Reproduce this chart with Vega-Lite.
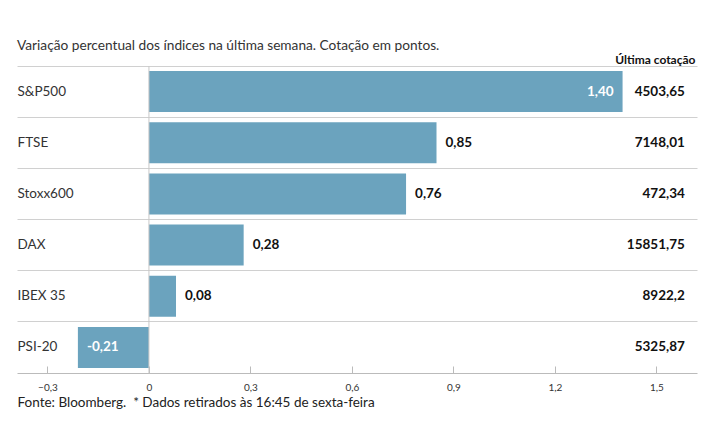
{
  "$schema": "https://vega.github.io/schema/vega-lite/v6.json",
  "width": 680,
  "height": 307,
  "autosize": {"type": "none"},
  "padding": {"left": 17, "top": 66, "right": 18, "bottom": 72},
  "background": "white",
  "title": {
    "text": "Variação percentual dos índices na última semana. Cotação em pontos.",
    "anchor": "start",
    "frame": "group",
    "offset": 0,
    "fontSize": 13.7,
    "fontWeight": "normal",
    "font": "Lato",
    "color": "#333333"
  },
  "config": {
    "view": {"stroke": null},
    "font": "Lato"
  },
  "data": {
    "values": [
      {"indice": "S&P500", "var": 1.40, "varLabel": "1,40", "cot": "4503,65"},
      {"indice": "FTSE", "var": 0.85, "varLabel": "0,85", "cot": "7148,01"},
      {"indice": "Stoxx600", "var": 0.76, "varLabel": "0,76", "cot": "472,34"},
      {"indice": "DAX", "var": 0.28, "varLabel": "0,28", "cot": "15851,75"},
      {"indice": "IBEX 35", "var": 0.08, "varLabel": "0,08", "cot": "8922,2"},
      {"indice": "PSI-20", "var": -0.21, "varLabel": "-0,21", "cot": "5325,87"}
    ]
  },
  "resolve": {"axis": {"y": "independent"}},
  "layer": [
    {
      "mark": {"type": "bar", "color": "#6BA3BE"},
      "encoding": {
        "y": {
          "field": "indice", "type": "nominal", "sort": null,
          "scale": {"paddingInner": 0.2, "paddingOuter": 0.1},
          "axis": {
            "orient": "left", "title": null, "ticks": false, "domain": false,
            "labelAlign": "left", "labelPadding": 0, "labelFontSize": 13.5,
            "labelColor": "#333333", "labelFont": "Lato",
            "grid": true, "gridColor": "#d0d0d0", "gridWidth": 1,
            "bandPosition": -0.125
          }
        },
        "x": {
          "field": "var", "type": "quantitative",
          "scale": {"domain": [-0.39, 1.62], "nice": false, "zero": false},
          "axis": {
            "values": [-0.3, 0, 0.3, 0.6, 0.9, 1.2, 1.5],
            "labelExpr": "datum.value == 0 ? '0' : replace(format(datum.value, '.1f'), '.', ',')",
            "grid": false,
            "domainColor": "#bbbbbb",
            "tickColor": "#bbbbbb",
            "tickSize": -7,
            "labelPadding": 16,
            "labelFontSize": 10,
            "labelColor": "#333333",
            "title": "Fonte: Bloomberg.\u00a0 * Dados retirados às 16:45 de sexta-feira",
            "titleAnchor": "start",
            "titleAlign": "left",
            "titleBaseline": "top",
            "titleX": 0,
            "titleY": 22,
            "titleFontSize": 13.5,
            "titleFontWeight": "normal",
            "titleColor": "#222222"
          }
        }
      }
    },
    {
      "data": {"values": [{"zero": 0}]},
      "mark": {"type": "rule", "color": "#c8c8c8", "strokeWidth": 1},
      "encoding": {"x": {"field": "zero", "type": "quantitative"}}
    },
    {
      "transform": [{"filter": "datum.var >= 1"}],
      "mark": {"type": "text", "align": "right", "baseline": "middle", "dx": -9, "fontSize": 13.5, "fontWeight": "bold", "color": "white"},
      "encoding": {
        "y": {"field": "indice", "type": "nominal", "sort": null, "axis": null},
        "x": {"field": "var", "type": "quantitative"},
        "text": {"field": "varLabel"}
      }
    },
    {
      "transform": [{"filter": "datum.var < 0"}],
      "mark": {"type": "text", "align": "left", "baseline": "middle", "dx": 9, "fontSize": 13.5, "fontWeight": "bold", "color": "white"},
      "encoding": {
        "y": {"field": "indice", "type": "nominal", "sort": null, "axis": null},
        "x": {"field": "var", "type": "quantitative"},
        "text": {"field": "varLabel"}
      }
    },
    {
      "transform": [{"filter": "datum.var >= 0 && datum.var < 1"}],
      "mark": {"type": "text", "align": "left", "baseline": "middle", "dx": 9, "fontSize": 13.5, "fontWeight": "bold", "color": "#111111"},
      "encoding": {
        "y": {"field": "indice", "type": "nominal", "sort": null, "axis": null},
        "x": {"field": "var", "type": "quantitative"},
        "text": {"field": "varLabel"}
      }
    },
    {
      "mark": {"type": "text", "align": "right", "baseline": "middle", "fontSize": 13.5, "fontWeight": "bold", "color": "#111111"},
      "encoding": {
        "y": {
          "field": "indice", "type": "nominal", "sort": null,
          "axis": {
            "orient": "right", "labels": false, "ticks": false, "domain": false, "grid": false,
            "title": "Última cotação", "titleAngle": 0, "titleAlign": "right",
            "titleBaseline": "alphabetic", "titleX": -2, "titleY": -3,
            "titleFontSize": 12, "titleFontWeight": "bold", "titleColor": "#111111"
          }
        },
        "x": {"datum": 1.584, "type": "quantitative"},
        "text": {"field": "cot"}
      }
    }
  ]
}
